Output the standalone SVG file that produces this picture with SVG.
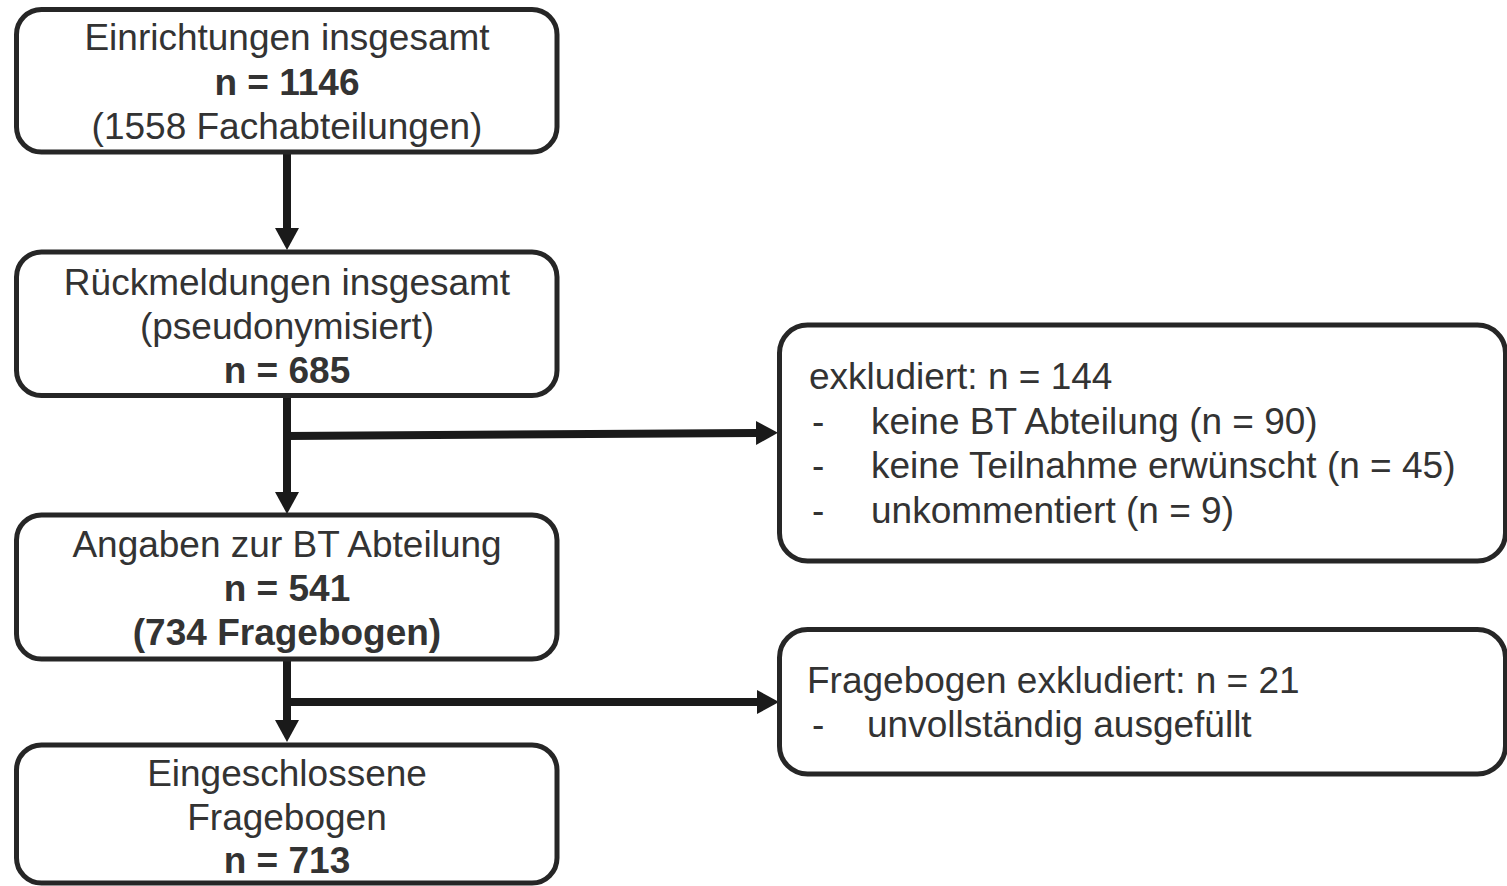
<svg xmlns="http://www.w3.org/2000/svg" width="1507" height="886" viewBox="0 0 1507 886">
<style>
.box{fill:#fff;stroke:#262626;stroke-width:5}
.t{font-family:"Liberation Sans",Arial,sans-serif;font-size:37px;fill:#333}
.c{text-anchor:middle}
.b{font-weight:bold}
.ln{stroke:#1a1a1a;stroke-width:8;fill:none}
</style>
<defs>
<marker id="ah" markerUnits="userSpaceOnUse" markerWidth="22" markerHeight="24" viewBox="0 0 22 24" refX="0" refY="12" orient="auto">
<path d="M0,0 L22,12 L0,24 Z" fill="#1a1a1a"/>
</marker>
</defs>
<rect width="1507" height="886" fill="#fff"/>
<g id="connectors">
<path class="ln" d="M287,152 V228" marker-end="url(#ah)"/>
<path class="ln" d="M287,397 V492" marker-end="url(#ah)"/>
<path class="ln" d="M287,436 L756,433" marker-end="url(#ah)"/>
<path class="ln" d="M287,659 V720" marker-end="url(#ah)"/>
<path class="ln" d="M287,702 H757" marker-end="url(#ah)"/>
</g>
<g id="n1">
<rect class="box" x="16.5" y="9.5" width="540.5" height="142.5" rx="25"/>
<text class="t c" x="287" y="50">Einrichtungen insgesamt</text>
<text class="t c b" x="287" y="95">n = 1146</text>
<text class="t c" x="287" y="139">(1558 Fachabteilungen)</text>
</g>
<g id="n2">
<rect class="box" x="16.5" y="252" width="540.5" height="143.5" rx="25"/>
<text class="t c" x="287" y="295">Rückmeldungen insgesamt</text>
<text class="t c" x="287" y="339">(pseudonymisiert)</text>
<text class="t c b" x="287" y="383">n = 685</text>
</g>
<g id="n3">
<rect class="box" x="16.5" y="515" width="540.5" height="144" rx="25"/>
<text class="t c" x="287" y="557">Angaben zur BT Abteilung</text>
<text class="t c b" x="287" y="601">n = 541</text>
<text class="t c b" x="287" y="645">(734 Fragebogen)</text>
</g>
<g id="n4">
<rect class="box" x="16.5" y="745" width="540.5" height="138" rx="25"/>
<text class="t c" x="287" y="786">Eingeschlossene</text>
<text class="t c" x="287" y="830">Fragebogen</text>
<text class="t c b" x="287" y="873">n = 713</text>
</g>
<g id="n5">
<rect class="box" x="779.5" y="325" width="726" height="236" rx="28"/>
<text class="t" x="809" y="389">exkludiert: n = 144</text>
<text class="t" x="812" y="434">-</text>
<text class="t" x="871" y="434">keine BT Abteilung (n = 90)</text>
<text class="t" x="812" y="478">-</text>
<text class="t" x="871" y="478">keine Teilnahme erwünscht (n = 45)</text>
<text class="t" x="812" y="523">-</text>
<text class="t" x="871" y="523">unkommentiert (n = 9)</text>
</g>
<g id="n6">
<rect class="box" x="779.5" y="629.5" width="726" height="144.5" rx="28"/>
<text class="t" x="807" y="693">Fragebogen exkludiert: n = 21</text>
<text class="t" x="812" y="737">-</text>
<text class="t" x="867" y="737">unvollständig ausgefüllt</text>
</g>
</svg>
